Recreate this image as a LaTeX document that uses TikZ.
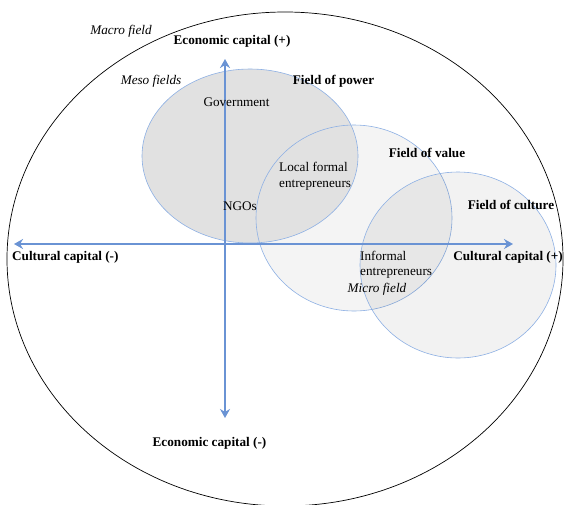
\documentclass[tikz,border=0pt]{standalone}
\usepackage{fontspec}
\setmainfont{Liberation Serif}
\usetikzlibrary{arrows.meta}
\definecolor{axisblue}{HTML}{6A93D4}
\definecolor{fieldblue}{HTML}{8DB0E4}
\definecolor{powergray}{HTML}{E1E1E1}
\definecolor{valuegray}{HTML}{F4F4F4}
\tikzset{
  axis/.style={line width=2.6pt, axisblue, {Stealth[length=9pt,width=10pt]}-{Stealth[length=9pt,width=10pt]}},
  field/.style={draw=fieldblue, line width=0.6pt},
  txt/.style={inner sep=0pt, font=\fontsize{13.2}{15.5}\selectfont},
  bold/.style={txt, font=\fontsize{13.2}{15.5}\selectfont\bfseries},
  ital/.style={txt, font=\fontsize{13.2}{15.5}\selectfont\itshape}
}

\begin{document}
\begin{tikzpicture}[x=1pt, y=-1pt]
\useasboundingbox (0,0) rectangle (564,504);
\clip (0,0) rectangle (564,504);
\fill[white] (0,0) rectangle (564,504);
% macro field
\draw[line width=0.7pt] (285,259) ellipse [x radius=278, y radius=247];
% meso fields
\fill[valuegray] (354,218) ellipse [x radius=98, y radius=93];
\draw[field, fill=powergray] (250,156) ellipse [x radius=108, y radius=87];
\draw[field] (354,218) ellipse [x radius=98, y radius=93];
\draw[field, fill=black, fill opacity=0.05] (458,265) ellipse [x radius=98, y radius=93];
% axes
\coordinate (top) at (225,59);
\coordinate (bottom) at (225,418);
\coordinate (left) at (14,244);
\coordinate (right) at (513,244);
\draw[axis] (top) -- (bottom);
\draw[axis] (left) -- (right);
% labels
\node[ital] (macro) at (121,31) {Macro field};
\node[bold] (econplus) at (232,41) {Economic capital (+)};
\node[bold] (econminus) at (209.5,443) {Economic capital (-)};
\node[bold, anchor=west] (cultminus) at (12,257) {Cultural capital (-)};
\node[bold, anchor=east] (cultplus) at (563,257) {Cultural capital (+)};
\node[ital] (meso) at (151,81) {Meso fields};
\node[bold] (power) at (333.5,81) {Field of power};
\node[bold] (value) at (427,153) {Field of value};
\node[bold] (culture) at (511,205) {Field of culture};
\node[txt] (gov) at (236.5,102) {Government};
\node[txt] (ngo) at (240,206) {NGOs};
\node[txt, anchor=west, align=left] (local) at (279,176.5) {Local formal\\entrepreneurs};
\node[txt, anchor=west, align=left] (informal) at (360,265) {Informal\\entrepreneurs};
\node[ital] (micro) at (377,289) {Micro field};
\end{tikzpicture}
\end{document}
